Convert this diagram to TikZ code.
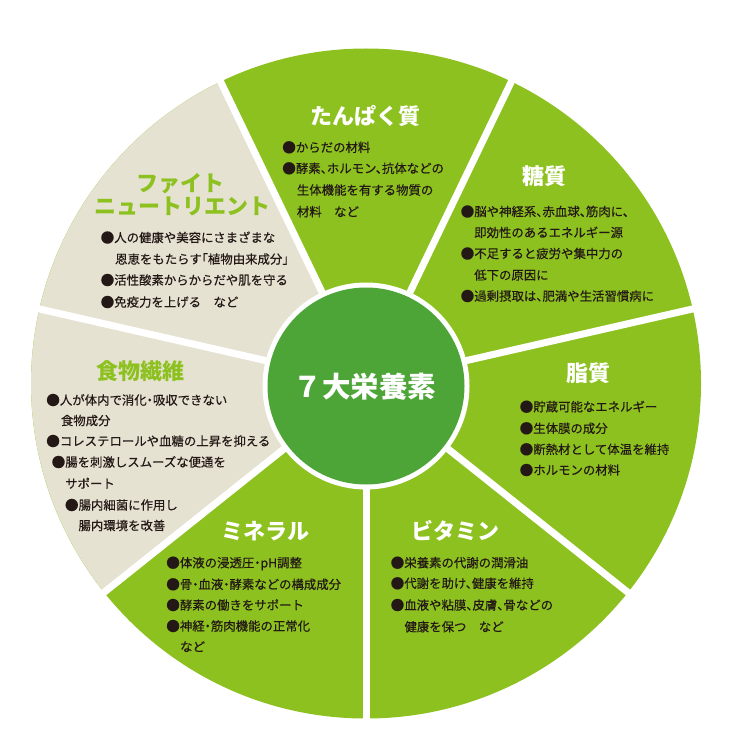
\documentclass[tikz,border=0pt]{standalone}
\usepackage{fontspec}
\setmainfont{Noto Sans CJK JP}
\newfontfamily\bodyfont[FakeBold=0.35]{Noto Sans CJK JP}
\definecolor{sectgreen}{RGB}{141,193,31}
\definecolor{sectbeige}{RGB}{229,226,210}
\definecolor{coregreen}{RGB}{77,165,56}
\definecolor{inkdark}{RGB}{35,24,21}
\newcommand\tou{、\kern-0.5em}
\newcommand\nakaguro{\kern-0.25em・\kern-0.25em}
\newcommand\kakko{\kern-0.5em「}
\newcommand\kakkoend{」\kern-0.5em}
\newcommand\bul{\makebox[1em][l]{\kern-0.1em\raisebox{-0.04em}{\scalebox{1.1}{●}}}}
\begin{document}
\begin{tikzpicture}[x=1pt,y=-1pt,
  body/.style={anchor=base west, inner sep=0pt, font=\fontsize{12.4}{14}\bodyfont, text=inkdark},
  ttl/.style={anchor=base, inner sep=0pt, font=\fontsize{22}{24}\selectfont\bfseries, text=white},
  ttlg/.style={ttl, text=sectgreen}]
\useasboundingbox[fill=white] (0,0) rectangle (751,751);
\coordinate (C) at (366,383.5);
\coordinate (O) at (366,386);
\fill[sectgreen] (C) circle (335);
\fill[sectbeige] (C) -- ++(-115.714:335) arc[start angle=-115.714, end angle=-218.571, radius=335] -- cycle;
\foreach \k in {0,...,6} \draw[white, line width=7pt] (C) -- ++({90+\k*360/7}:350);
\fill[white] (O) circle (103.5);
\fill[coregreen] (O) circle (98.5);
\node[anchor=base, inner sep=0pt, font=\fontsize{28.5}{30}\selectfont\bfseries, text=white] (core) at (365,397.5) {７大栄養素};

% たんぱく質
\node[ttl] (t1) at (365,124.4) {たんぱく質};
\node[body] (p1) at (283.3,152) {\bul からだの材料};
\node[body] (p2) at (283.3,173) {\bul 酵素\tou ホルモン\tou 抗体などの};
\node[body] (p3) at (296.7,194.7) {生体機能を有する物質の};
\node[body] (p4) at (296.7,216.4) {材料　など};

% 糖質
\node[ttl] (t2) at (544,184.4) {糖質};
\node[body] (s1) at (461.7,216.2) {\bul 脳や神経系\tou 赤血球\tou 筋肉に\tou};
\node[body] (s2) at (474,237.2) {即効性のあるエネルギー源};
\node[body] (s3) at (461.7,258.2) {\bul 不足すると疲労や集中力の};
\node[body] (s4) at (474,279.7) {低下の原因に};
\node[body] (s5) at (461.7,300.7) {\bul 過剰摂取は\tou 肥満や生活習慣病に};

% 脂質
\node[ttl] (t3) at (588,381.7) {脂質};
\node[body] (f1) at (520.7,411.4) {\bul 貯蔵可能なエネルギー};
\node[body] (f2) at (520.7,433) {\bul 生体膜の成分};
\node[body] (f3) at (520.7,454) {\bul 断熱材として体温を維持};
\node[body] (f4) at (520.7,474.7) {\bul ホルモンの材料};

% ビタミン
\node[ttl] (t4) at (455,539) {ビタミン};
\node[body] (v1) at (391.7,567.4) {\bul 栄養素の代謝の潤滑油};
\node[body] (v2) at (391.7,588) {\bul 代謝を助け\tou 健康を維持};
\node[body] (v3) at (391.7,609.7) {\bul 血液や粘膜\tou 皮膚\tou 骨などの};
\node[body] (v4) at (404.3,631.4) {健康を保つ　など};

% ミネラル
\node[ttl] (t5) at (265,539) {ミネラル};
\node[body] (m1) at (167.3,567.4) {\bul 体液の浸透圧\nakaguro pH調整};
\node[body] (m2) at (167.3,589) {\bul 骨\nakaguro 血液\nakaguro 酵素などの構成成分};
\node[body] (m3) at (167.3,609.7) {\bul 酵素の働きをサポート};
\node[body] (m4) at (167.3,630.7) {\bul 神経\nakaguro 筋肉機能の正常化};
\node[body] (m5) at (180,651.4) {など};

% 食物繊維
\node[ttlg] (t6) at (140,379) {食物繊維};
\node[body] (d1) at (47.3,404.7) {\bul 人が体内で消化\nakaguro 吸収できない};
\node[body] (d2) at (60.7,425.2) {食物成分};
\node[body] (d3) at (47.3,445.7) {\bul コレステロールや血糖の上昇を抑える};
\node[body] (d4) at (52.7,466.7) {\bul 腸を刺激しスムーズな便通を};
\node[body] (d5) at (65,488.2) {サポート};
\node[body] (d6) at (66,509.7) {\bul 腸内細菌に作用し};
\node[body] (d7) at (78.3,530.2) {腸内環境を改善};

% ファイトニュートリエント
\node[ttlg] (t7a) at (180,191.7) {ファイト};
\node[ttlg] (t7b) at (182,214.4) {ニュートリエント};
\node[body] (n1) at (101.7,242.2) {\bul 人の健康や美容にさまざまな};
\node[body] (n2) at (115,263.7) {恩恵をもたらす\kakko 植物由来成分\kakkoend};
\node[body] (n3) at (101.7,284.7) {\bul 活性酸素からからだや肌を守る};
\node[body] (n4) at (101.7,306.7) {\bul 免疫力を上げる　など};
\end{tikzpicture}
\end{document}
